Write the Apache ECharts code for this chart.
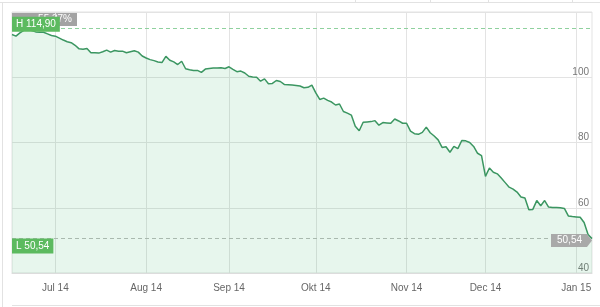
<!DOCTYPE html>
<html><head><meta charset="utf-8">
<script src="https://cdn.jsdelivr.net/npm/echarts@6/dist/echarts.min.js"></script>
<style>html,body{margin:0;padding:0;background:#fff}#c{width:600px;height:307px}</style>
</head><body><div id="c"></div>
<script>
// trading days (weekdays) from firstDay to lastDay
const firstDay = '2014-06-16';
const lastDay = '2015-01-07';
const monthNames = ['Jan','Feb','Mär','Apr','Mai','Jun','Jul','Aug','Sep','Okt','Nov','Dec'];
const prices = [
  113.1,112.6,113.6,114.4,114.9,114.3,113.9,113.8,113.8,113.3,
  112.8,112.6,112.0,111.4,110.9,110.6,109.8,108.7,108.6,108.8,
  107.5,107.5,107.4,107.8,108.3,107.7,108.2,108.0,108.0,107.5,
  107.8,108.1,107.7,106.5,105.9,105.4,105.1,104.7,104.5,106.4,
  105.2,104.7,103.9,104.9,102.6,102.3,102.1,102.1,101.5,102.5,
  102.7,102.8,102.8,102.9,102.7,103.2,102.4,101.7,101.9,101.3,
  100.3,100.1,100.0,98.8,99.5,98.0,98.1,99.0,98.7,97.8,
  97.7,97.6,97.5,97.3,96.8,96.9,97.6,95.2,93.2,93.6,
  92.9,92.4,91.5,91.8,89.5,89.0,88.4,85.0,83.6,86.2,
  86.3,86.4,86.7,85.3,86.1,86.0,85.9,87.2,86.6,85.9,
  85.9,83.5,82.7,82.5,83.1,84.7,83.0,82.0,80.8,78.5,
  78.7,77.0,78.8,78.1,80.6,80.5,80.0,78.8,76.7,76.0,
  69.6,72.2,70.9,70.4,69.1,67.7,66.3,65.7,64.8,63.3,
  63.0,59.4,59.5,62.2,60.6,62.2,60.2,60.1,60.1,60.0,
  59.8,57.5,57.3,57.2,57.1,55.5,51.8,50.54
];
const high = 114.90;
const low = 50.54;
const changeLabel = '-55,37%';
const yMin = 40, yMax = 120, yStep = 20;

const dates = [];
for (let t = Date.parse(firstDay + 'T00:00:00Z'); t <= Date.parse(lastDay + 'T00:00:00Z'); t += 86400000) {
  const d = new Date(t); const wd = d.getUTCDay();
  if (wd !== 0 && wd !== 6) dates.push(d.toISOString().slice(0, 10));
}
const fmt = v => v.toFixed(2).replace('.', ',');
const isMonthStart = i => i > 0 && dates[i].slice(5, 7) !== dates[i - 1].slice(5, 7);
const FONT = '"Liberation Sans", Arial, sans-serif';

const chart = echarts.init(document.getElementById('c'));
chart.setOption({
  animation: false,
  textStyle: { fontFamily: FONT },
  grid: { left: 12, right: 8, top: 12, bottom: 34, show: true, borderColor: '#e3e3e3', borderWidth: 1 },
  xAxis: {
    type: 'category', data: dates, boundaryGap: false,
    axisLine: { show: true, lineStyle: { color: '#dcdcdc' } },
    axisTick: { show: false },
    axisLabel: {
      interval: (i) => isMonthStart(i),
      formatter: v => monthNames[+v.slice(5, 7) - 1] + ' ' + v.slice(2, 4),
      color: '#666', fontSize: 10, margin: 10, fontFamily: FONT
    },
    splitLine: { show: true, interval: (i) => isMonthStart(i), lineStyle: { color: '#e3e3e3' } }
  },
  yAxis: {
    type: 'value', position: 'right', min: yMin, max: yMax, interval: yStep,
    axisLine: { show: false }, axisTick: { show: false },
    axisLabel: {
      inside: true, margin: 3, color: '#777', fontSize: 10, verticalAlign: 'bottom', fontFamily: FONT,
      formatter: v => v === yMax ? '' : String(v)
    },
    splitLine: { lineStyle: { color: '#e3e3e3' } }
  },
  series: [{
    type: 'line', data: prices, symbol: 'none', smooth: false,
    lineStyle: { color: '#3b9661', width: 1.5 },
    areaStyle: { color: 'rgba(60,180,110,0.18)' },
    markLine: {
      silent: true, symbol: ['none', 'none'], animation: false,
      data: [
        { yAxis: high, lineStyle: { color: '#8fd19e', type: [4, 3], width: 1 },
          label: { show: true, position: 'insideStartTop', distance: [0, 0], offset: [0, 3], formatter: 'H ' + fmt(high),
                   color: '#fff', backgroundColor: '#5cba5f', padding: [2, 4, 2, 4], lineHeight: 11, fontSize: 10, fontFamily: FONT } },
        { yAxis: low, lineStyle: { color: '#a9b9ae', type: [4, 3], width: 1 },
          label: { show: true, position: 'insideStartBottom', distance: [0, 0], formatter: 'L ' + fmt(low),
                   color: '#fff', backgroundColor: '#5cba5f', padding: [2, 4, 2, 4], lineHeight: 11, fontSize: 10, fontFamily: FONT } }
      ]
    },
    markPoint: {
      silent: true, animation: false,
      symbol: 'path://M0,0L36,0L41,6.5L36,13L0,13Z',
      symbolSize: [41, 13],
      symbolOffset: ['-50%', 2],
      itemStyle: { color: '#a9a9a9' },
      label: { show: true, position: 'inside', color: '#fff', fontSize: 10, offset: [-2, 0], fontFamily: FONT,
               formatter: () => fmt(prices[prices.length - 1]) },
      data: [{ coord: [dates[dates.length - 1], prices[prices.length - 1]] }]
    }
  }],
  graphic: [
    { type: 'rect', z: 0, shape: { x: 12, y: 12, width: 65, height: 14 }, style: { fill: '#a3a3a3' } },
    { type: 'text', z: 0, style: { x: 72, y: 19, text: changeLabel, fill: '#fff', font: '10px ' + FONT, align: 'right', verticalAlign: 'middle' } },
    { type: 'line', shape: { x1: 0, y1: 2.5, x2: 600, y2: 2.5 }, style: { stroke: '#e2e2e2', lineWidth: 1 } },
    { type: 'line', shape: { x1: 2.5, y1: 2.5, x2: 2.5, y2: 307 }, style: { stroke: '#e2e2e2', lineWidth: 1 } },
    { type: 'line', shape: { x1: 12, y1: 305.5, x2: 600, y2: 305.5 }, style: { stroke: '#e2e2e2', lineWidth: 1 } },
    { type: 'line', shape: { x1: 355.5, y1: 0, x2: 355.5, y2: 2.5 }, style: { stroke: '#e2e2e2', lineWidth: 1 } },
    { type: 'line', shape: { x1: 430.5, y1: 0, x2: 430.5, y2: 2.5 }, style: { stroke: '#e2e2e2', lineWidth: 1 } },
    { type: 'line', shape: { x1: 488.5, y1: 0, x2: 488.5, y2: 2.5 }, style: { stroke: '#e2e2e2', lineWidth: 1 } },
    { type: 'line', shape: { x1: 572.5, y1: 0, x2: 572.5, y2: 2.5 }, style: { stroke: '#e2e2e2', lineWidth: 1 } }
  ]
});
</script></body></html>
